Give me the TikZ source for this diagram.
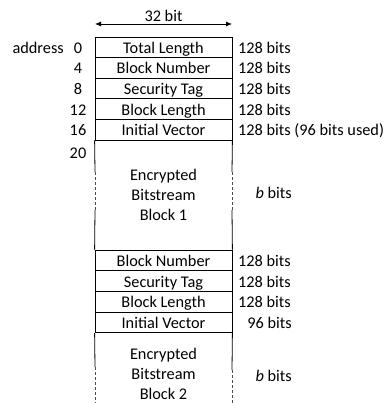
\documentclass[tikz,border=0pt]{standalone}
\usepackage{fontspec}
\setmainfont{Carlito}
\usetikzlibrary{arrows.meta}
\begin{document}
\begin{tikzpicture}[x=1pt,y=-1pt,
  every node/.style={font=\fontsize{16.3}{20.1}\selectfont},
  cell/.style={draw=black, line width=0.8pt, minimum width=137pt, minimum height=20.6pt, inner sep=0pt, text height=13pt, text depth=1pt},
  lbl/.style={inner sep=0pt, text height=13pt, text depth=1pt},
  blk/.style={inner sep=0pt, align=center},
  side/.style={line width=0.8pt},
  dside/.style={line width=0.6pt, densely dashed, black!70}]
\useasboundingbox (0,0) rectangle (391,403);
% width arrow
\coordinate (al) at (95,24);
\coordinate (ar) at (232,24);
\draw[line width=0.8pt, {Latex[length=6pt,width=5pt]}-{Latex[length=6pt,width=5pt]}] (al) -- (ar);
\node[lbl, anchor=base] (w) at (163.5,21.5) {32 bit};
% first header
\node[cell] (tl)  at (163.5,47.3)  {Total Length};
\node[cell] (bn1) at (163.5,67.9)  {Block Number};
\node[cell] (st1) at (163.5,88.5)  {Security Tag};
\node[cell] (bl1) at (163.5,109.1) {Block Length};
\node[cell] (iv1) at (163.5,129.7) {Initial Vector};
% block 1
\node[blk] (b1) at (163.5,194.5) {Encrypted\\Bitstream\\Block 1};
% second header
\node[cell] (bn2) at (163.5,260.3) {Block Number};
\node[cell] (st2) at (163.5,281.0) {Security Tag};
\node[cell] (bl2) at (163.5,301.6) {Block Length};
\node[cell] (iv2) at (163.5,322.3) {Initial Vector};
% block 2
\node[blk] (b2) at (163.5,373.5) {Encrypted\\Bitstream\\Block 2};
% block 1 sides
\coordinate (l1a) at (iv1.south west);
\coordinate (l1b) at (95,172);
\coordinate (l1c) at (95,210);
\coordinate (l1d) at (bn2.north west);
\coordinate (r1a) at (iv1.south east);
\coordinate (r1b) at (232,172);
\coordinate (r1c) at (232,210);
\coordinate (r1d) at (bn2.north east);
\draw[side] (l1a) -- (l1b) (l1c) -- (l1d);
\draw[dside] (l1b) -- (l1c);
\draw[side] (r1a) -- (r1b) (r1c) -- (r1d);
\draw[dside] (r1b) -- (r1c);
% block 2 sides
\coordinate (l2a) at (iv2.south west);
\coordinate (l2b) at (95,367);
\coordinate (l2c) at (95,403);
\coordinate (r2a) at (iv2.south east);
\coordinate (r2b) at (232,370);
\coordinate (r2c) at (232,403);
\draw[side] (l2a) -- (l2b) (r2a) -- (r2b);
\draw[dside] (l2b) -- (l2c) (r2b) -- (r2c);
% addresses
\node[lbl, anchor=east] (addr) at (64,47.3) {address};
\node[lbl] (a0)  at (78,47.3)  {0};
\node[lbl] (a4)  at (78,67.9)  {4};
\node[lbl] (a8)  at (78,88.5)  {8};
\node[lbl] (a12) at (78,109.1) {12};
\node[lbl] (a16) at (78,129.7) {16};
\node[lbl] (a20) at (78,152.3) {20};
% sizes
\node[lbl, anchor=west] (s1) at (238,47.3)  {128 bits};
\node[lbl, anchor=west] (s2) at (238,67.9)  {128 bits};
\node[lbl, anchor=west] (s3) at (238,88.5)  {128 bits};
\node[lbl, anchor=west] (s4) at (238,109.1) {128 bits};
\node[lbl, anchor=west] (s5) at (238,129.7) {128 bits (96 bits used)};
\node[lbl, anchor=base east] (sb1) at (292,198.5) {\textit{b} bits};
\node[lbl, anchor=west] (s6) at (238,260.3) {128 bits};
\node[lbl, anchor=west] (s7) at (238,281.0) {128 bits};
\node[lbl, anchor=west] (s8) at (238,301.6) {128 bits};
\node[lbl, anchor=east] (s9) at (292,322.3) {96 bits};
\node[lbl, anchor=base east] (sb2) at (292,381) {\textit{b} bits};
\end{tikzpicture}
\end{document}
